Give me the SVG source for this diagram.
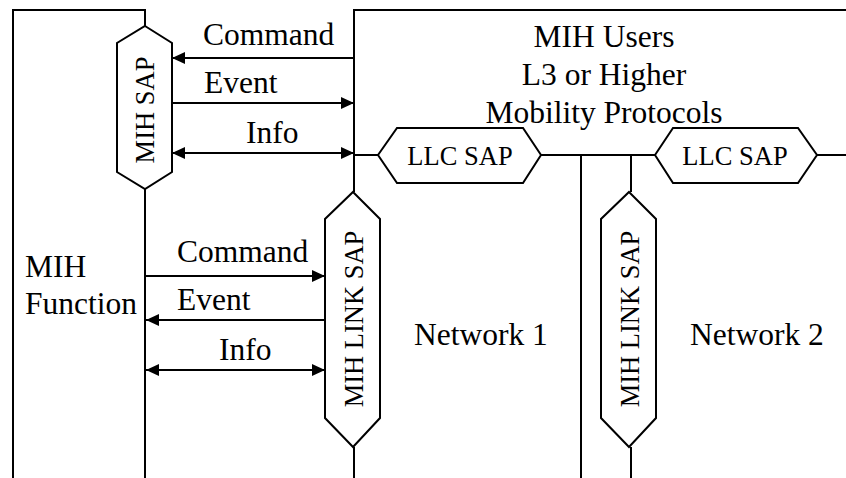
<svg xmlns="http://www.w3.org/2000/svg" width="846" height="478" viewBox="0 0 846 478">
<style>
.ln{fill:none;stroke:#000;stroke-width:2}
.hx{fill:#fff;stroke:#000;stroke-width:2}
.t{font-family:"Liberation Serif","Times New Roman",serif;font-size:31.5px;fill:#000}
.s{font-family:"Liberation Serif","Times New Roman",serif;font-size:26.5px;fill:#000}
</style>
<defs>
<marker id="ah" markerUnits="userSpaceOnUse" markerWidth="14" markerHeight="12" refX="13" refY="6" orient="auto-start-reverse">
<path d="M0,0 L13,6 L0,12 z" fill="#000"/>
</marker>
</defs>
<rect width="846" height="478" fill="#fff"/>
<g id="mih-function">
<path class="ln" d="M13,478 V10 H145 V26"/>
<path class="ln" d="M145,189 V478"/>
<text class="t" x="25" y="277">MIH</text>
<text class="t" x="25" y="314">Function</text>
</g>
<g id="mih-users">
<path class="ln" d="M846,10 H354 V192"/>
<text class="t" x="604" y="47" text-anchor="middle">MIH Users</text>
<text class="t" x="604" y="85" text-anchor="middle">L3 or Higher</text>
<text class="t" x="604" y="123" text-anchor="middle">Mobility Protocols</text>
</g>
<g id="network1">
<path class="ln" d="M354,447 V478"/>
<text class="t" x="414" y="345">Network 1</text>
</g>
<g id="network2">
<path class="ln" d="M581,155 V478"/>
<path class="ln" d="M631,155 V192"/>
<path class="ln" d="M631,447 V478"/>
<text class="t" x="690" y="345">Network 2</text>
</g>
<g id="connectors">
<path class="ln" d="M354,155 H378"/>
<path class="ln" d="M541,155 H655"/>
<path class="ln" d="M817,155 H846"/>
<line class="ln" x1="354" y1="58" x2="172" y2="58" marker-end="url(#ah)"/>
<line class="ln" x1="172" y1="103" x2="354" y2="103" marker-end="url(#ah)"/>
<line class="ln" x1="172" y1="153" x2="354" y2="153" marker-start="url(#ah)" marker-end="url(#ah)"/>
<line class="ln" x1="145" y1="276" x2="325" y2="276" marker-end="url(#ah)"/>
<line class="ln" x1="325" y1="320" x2="146" y2="320" marker-end="url(#ah)"/>
<line class="ln" x1="146" y1="370" x2="325" y2="370" marker-start="url(#ah)" marker-end="url(#ah)"/>
<text class="t" x="203" y="45">Command</text>
<text class="t" x="204" y="93">Event</text>
<text class="t" x="246" y="143">Info</text>
<text class="t" x="177" y="262">Command</text>
<text class="t" x="177" y="310">Event</text>
<text class="t" x="219" y="360">Info</text>
</g>
<g id="mih-sap">
<polygon class="hx" points="145,26 172,43 172,172 145,189 117,172 117,43"/>
<text class="s" transform="translate(154,110) rotate(-90)" text-anchor="middle">MIH SAP</text>
</g>
<g id="llc-sap-1">
<polygon class="hx" points="378,155 397,128 523,128 541,155 523,183 397,183"/>
<text class="s" x="460" y="165" text-anchor="middle">LLC SAP</text>
</g>
<g id="llc-sap-2">
<polygon class="hx" points="655,155 673,128 798,128 817,155 798,183 673,183"/>
<text class="s" x="735" y="165" text-anchor="middle">LLC SAP</text>
</g>
<g id="mih-link-sap-1">
<polygon class="hx" points="353,192 380,219 380,418 353,447 325,418 325,219"/>
<text class="s" transform="translate(363,319) rotate(-90)" text-anchor="middle">MIH LINK SAP</text>
</g>
<g id="mih-link-sap-2">
<polygon class="hx" points="629,192 656,219 656,418 629,447 601,418 601,219"/>
<text class="s" transform="translate(639,319) rotate(-90)" text-anchor="middle">MIH LINK SAP</text>
</g>
</svg>
